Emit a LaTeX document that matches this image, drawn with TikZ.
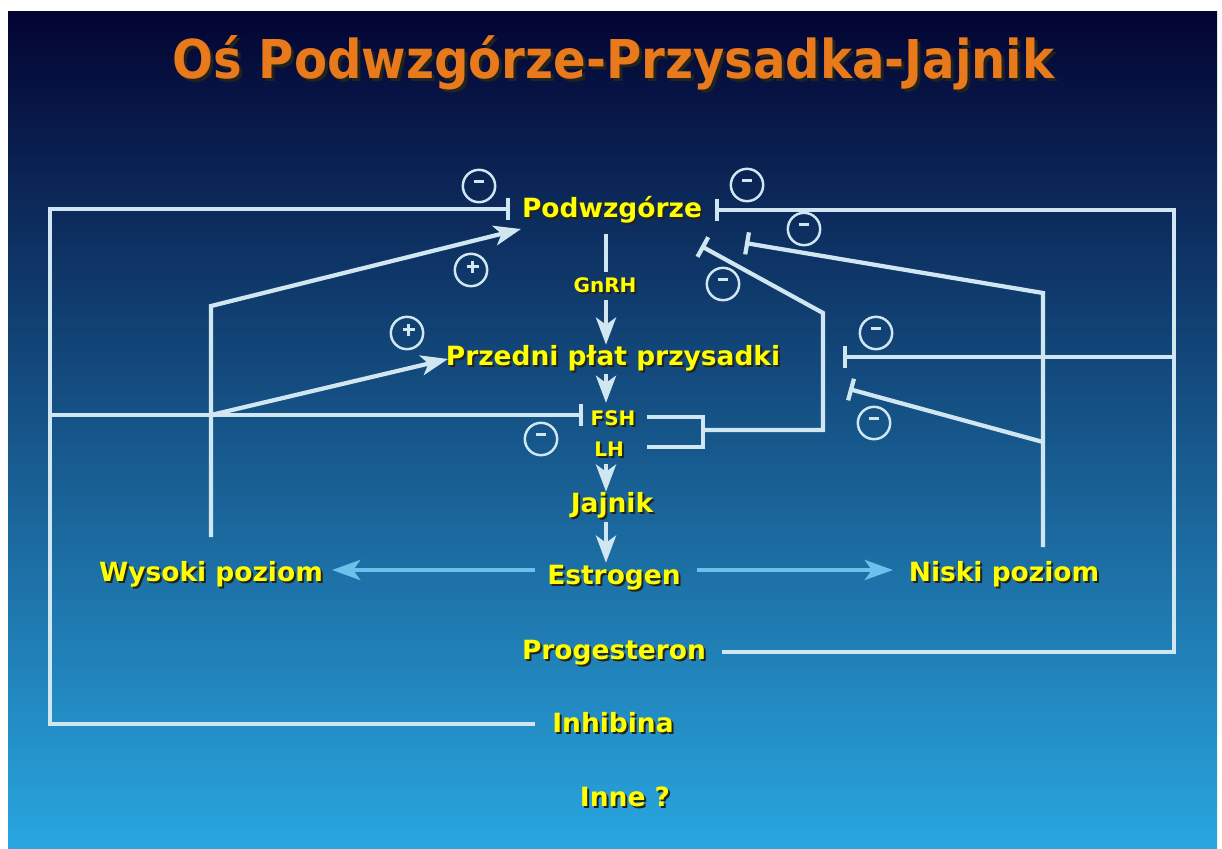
\documentclass[tikz,border=0pt]{standalone}
\usepackage{fontspec}
\setmainfont{DejaVu Sans}
\newfontfamily\titlefont{DejaVu Sans Condensed Bold}
\usetikzlibrary{arrows.meta,calc}

\definecolor{bgtop}{RGB}{3,4,50}
\definecolor{bgbot}{RGB}{41,166,224}
\definecolor{wirec}{RGB}{208,230,240}
\definecolor{estc}{RGB}{108,192,236}
\definecolor{labc}{RGB}{255,255,0}
\definecolor{shc}{RGB}{35,35,30}
\definecolor{titc}{RGB}{232,122,28}

% text with a dark drop shadow behind it
\newcommand{\shd}[1]{\makebox[0pt][l]{\kern1.7pt\raisebox{-1.7pt}{\textcolor{shc}{#1}}}#1}
\newcommand{\tshd}[1]{\makebox[0pt][l]{\kern2.6pt\raisebox{-2.6pt}{\textcolor{shc}{#1}}}#1}

\begin{document}
\begin{tikzpicture}[x=0.85pt,y=-0.85pt,
  lab/.style={text=labc, font=\bfseries\fontsize{22.5}{26}\selectfont, inner sep=0pt, anchor=base},
  slab/.style={lab, font=\bfseries\fontsize{17}{20}\selectfont},
  wire/.style={draw=wirec, line width=3.6pt},
  flow/.style={wire, -{Stealth[length=23pt,width=17pt,inset=6pt]}},
  block/.style={wire, -{Bar[width=19pt]}},
  estflow/.style={draw=estc, line width=3.6pt, -{Stealth[length=24pt,width=17pt,inset=6pt]}},
  signring/.style={circle, draw=wirec, line width=2.1pt, minimum size=27.5pt, inner sep=0pt},
  negsign/.style={signring, path picture={
    \draw[wirec, line width=2.6pt]
      ([xshift=-4.6pt,yshift=4pt]path picture bounding box.center) --
      ([xshift=4.6pt,yshift=4pt]path picture bounding box.center);}},
  possign/.style={signring, path picture={
    \draw[wirec, line width=2.4pt]
      ([xshift=-3.6pt,yshift=2.8pt]path picture bounding box.center) --
      ([xshift=6.4pt,yshift=2.8pt]path picture bounding box.center)
      ([xshift=1.4pt,yshift=-2.2pt]path picture bounding box.center) --
      ([xshift=1.4pt,yshift=7.8pt]path picture bounding box.center);}},
]
\useasboundingbox (0,0) rectangle (1222,849);

% slide background
\fill[white] (0,0) rectangle (1222,849);
\shade[top color=bgtop, bottom color=bgbot] (8,11) rectangle (1217,849);

% title
\node[text=titc, font=\titlefont\fontsize{45.5}{50}\selectfont, inner sep=0pt, anchor=base]
  (title) at (613.5,78) {\tshd{Oś Podwzgórze-Przysadka-Jajnik}};

% labels
\node[lab]  (pod)   at (612,217) {\shd{Podwzgórze}};
\node[slab] (gnrh)  at (605,292) {\shd{GnRH}};
\node[lab]  (przed) at (613,365) {\shd{Przedni płat przysadki}};
\node[slab] (fsh)   at (613,425) {\shd{FSH}};
\node[slab] (lh)    at (609,456) {\shd{LH}};
\node[lab]  (jaj)   at (612,512) {\shd{Jajnik}};
\node[lab]  (estr)  at (614,584) {\shd{Estrogen}};
\node[lab]  (wys)   at (211,581) {\shd{Wysoki poziom}};
\node[lab]  (nis)   at (1004,581) {\shd{Niski poziom}};
\node[lab]  (prog)  at (614,659) {\shd{Progesteron}};
\node[lab]  (inh)   at (613,732) {\shd{Inhibina}};
\node[lab]  (inne)  at (625,806) {\shd{Inne ?}};

% main axis
\coordinate (axis) at (606,0);
\draw[wire] ([yshift=-7.6pt]pod.south -| axis) -- ([yshift=4.3pt]gnrh.north -| axis);
\draw[flow] ([yshift=-5pt]gnrh.south -| axis) -- (przed.north -| axis);
\draw[flow] ([yshift=-1pt]przed.south -| axis) -- ([yshift=6pt]fsh.north -| axis);
\draw[flow] ([yshift=-5pt]lh.south -| axis) -- (jaj.north -| axis);
\draw[flow] ([yshift=-1.5pt]jaj.south -| axis) -- ([yshift=1.5pt]estr.north -| axis);

% estrogen level arrows
\coordinate (eL) at (535,570);  \coordinate (eLtip) at (332,570);
\coordinate (eR) at (697,570);  \coordinate (eRtip) at (893,570);
\draw[estflow] (eL) -- (eLtip);
\draw[estflow] (eR) -- (eRtip);

% inhibin feedback (left loop)
\coordinate (inhEnd)  at (535,724);
\coordinate (lBot)    at (50,724);
\coordinate (lTop)    at (50,209);
\coordinate (lMid)    at (50,415);
\coordinate (podBarL) at (510,209);
\coordinate (fshBar)  at (583,415);
\draw[block] (inhEnd) -- (lBot) -- (lTop) -- (podBarL);
\draw[block] (lMid) -- (fshBar);

% high estrogen: positive feedback
\coordinate (wBot)    at (211,537);
\coordinate (wTop)    at (211,306);
\coordinate (wMid)    at (211,415);
\coordinate (podTipL) at (521,229);
\coordinate (przTip)  at (448,359);
\draw[flow] (wBot) -- (wTop) -- (podTipL);
\draw[flow] (wMid) -- (przTip);

% progesterone feedback (right loop)
\coordinate (progEnd) at (722,652);
\coordinate (rBot)    at (1174,652);
\coordinate (rTop)    at (1174,210);
\coordinate (rMid)    at (1174,357);
\coordinate (podBarR) at (715,210);
\coordinate (przBar)  at (843,357);
\draw[block] (progEnd) -- (rBot) -- (rTop) -- (podBarR);
\draw[block] (rMid) -- (przBar);

% low estrogen: negative feedback
\coordinate (nBot)    at (1043,547);
\coordinate (nTop)    at (1043,293);
\coordinate (nMid)    at (1043,442);
\coordinate (podBarN) at (745,243);
\coordinate (przBarN) at (849,389);
\draw[block] (nBot) -- (nTop) -- (podBarN);
\draw[block] (nMid) -- (przBarN);

% FSH / LH short loop
\coordinate (fshR)    at (647,417);
\coordinate (brTop)   at (703,417);
\coordinate (brBot)   at (703,447);
\coordinate (lhR)     at (647,447);
\coordinate (brMid)   at (703,430);
\coordinate (brOut)   at (823,430);
\coordinate (brUp)    at (823,313);
\coordinate (podBarF) at (701,246);
\draw[wire] (fshR) -- (brTop) -- (brBot) -- (lhR);
\draw[block] (brMid) -- (brOut) -- (brUp) -- (podBarF);

% signs
\node[negsign] (s1) at (479,186) {};
\node[negsign] (s2) at (747,185) {};
\node[negsign] (s3) at (804,229) {};
\node[negsign] (s4) at (723,284) {};
\node[negsign] (s5) at (876,333) {};
\node[negsign] (s6) at (874,423) {};
\node[negsign] (s7) at (541,439) {};
\node[possign] (p1) at (471,270) {};
\node[possign] (p2) at (407,333) {};
\end{tikzpicture}
\end{document}
